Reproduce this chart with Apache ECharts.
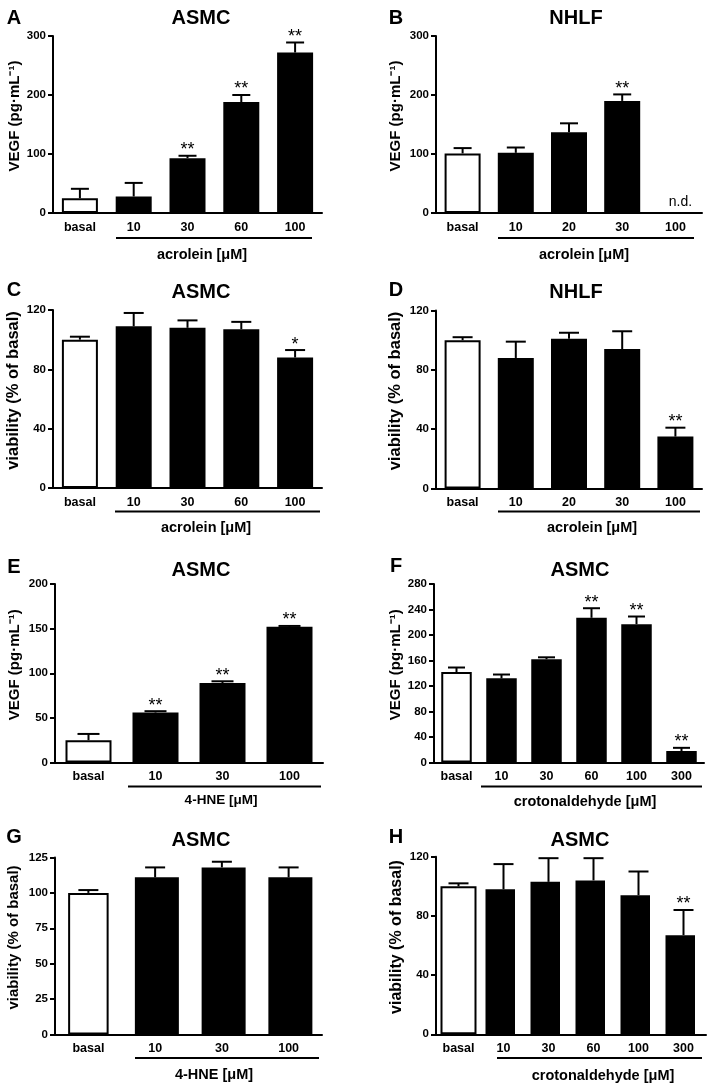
<!DOCTYPE html>
<html><head><meta charset="utf-8">
<script src="https://cdn.jsdelivr.net/npm/echarts@6/dist/echarts.min.js"></script>
<style>html,body{margin:0;padding:0;background:#fff}#c{width:709px;height:1084px}</style>
</head><body><div id="c"></div>
<script>
// ---------- DATA ----------
const catsA = ['basal','10','30','60','100'];
const valsA = [25, 28, 93, 188, 272];
const errsA = [16, 23, 4, 12, 17];
const sigA  = ['', '', '**', '**', '**'];

const catsB = ['basal','10','20','30','100'];
const valsB = [101, 102, 137, 190, null];
const errsB = [9, 9, 15, 11, null];
const sigB  = ['', '', '', '**', 'n.d.'];

const catsC = ['basal','10','30','60','100'];
const valsC = [100, 109, 108, 107, 88];
const errsC = [2, 9, 5, 5, 5];
const sigC  = ['', '', '', '', '*'];

const catsD = ['basal','10','20','30','100'];
const valsD = [100, 88, 101, 94, 35];
const errsD = [2, 11, 4, 12, 6];
const sigD  = ['', '', '', '', '**'];

const catsE = ['basal','10','30','100'];
const valsE = [25, 56, 89, 152];
const errsE = [7, 1.5, 2, 1];
const sigE  = ['', '**', '**', '**'];

const catsF = ['basal','10','30','60','100','300'];
const valsF = [142, 132, 162, 227, 217, 18];
const errsF = [7, 6, 3, 15, 12, 5];
const sigF  = ['', '', '', '**', '**', '**'];

const catsG = ['basal','10','30','100'];
const valsG = [100, 111, 118, 111];
const errsG = [2, 7, 4, 7];
const sigG  = ['', '', '', ''];

const catsH = ['basal','10','30','60','100','300'];
const valsH = [100, 98, 103, 104, 94, 67];
const errsH = [2, 17, 16, 15, 16, 17];
const sigH  = ['', '', '', '', '', '**'];

const vegfName = 'VEGF (pg·mL⁻¹)';
const viaName = 'viability (% of basal)';

// ---------- LAYOUT ----------
const FF = '"Liberation Sans", Arial, Helvetica, sans-serif';
const panels = [
  {letter:'A', title:'ASMC', cats:catsA, vals:valsA, errs:errsA, sig:sigA, yMax:300, yInt:100, yName:vegfName, group:'acrolein [μM]',
   grid:{left:53, top:36, width:269, height:177}, barW:36, basalW:36, cap:9, letterXY:[14,18], titleXY:[201,18], line:[116,312,238], groupXY:[202,255], nameGap:31, nameSize:15, groupSize:14.5},
  {letter:'B', title:'NHLF', cats:catsB, vals:valsB, errs:errsB, sig:sigB, yMax:300, yInt:100, yName:vegfName, group:'acrolein [μM]',
   grid:{left:436, top:36, width:266, height:177}, barW:36, basalW:36, cap:9, letterXY:[396,18], titleXY:[576,18], line:[498,694,238], groupXY:[584,255], nameGap:33, nameSize:15, groupSize:14.5},
  {letter:'C', title:'ASMC', cats:catsC, vals:valsC, errs:errsC, sig:sigC, yMax:120, yInt:40, yName:viaName, group:'acrolein [μM]',
   grid:{left:53, top:310, width:269, height:178}, barW:36, basalW:36, cap:10, letterXY:[14,290], titleXY:[201,292], line:[115,320,511.5], groupXY:[206,528], nameGap:31, nameSize:16.5, groupSize:14.5},
  {letter:'D', title:'NHLF', cats:catsD, vals:valsD, errs:errsD, sig:sigD, yMax:120, yInt:40, yName:viaName, group:'acrolein [μM]',
   grid:{left:436, top:310.5, width:266, height:178}, barW:36, basalW:36, cap:10, letterXY:[396,290], titleXY:[576,292], line:[498,700,511.5], groupXY:[592,528], nameGap:32, nameSize:16.5, groupSize:14.5},
  {letter:'E', title:'ASMC', cats:catsE, vals:valsE, errs:errsE, sig:sigE, yMax:200, yInt:50, yName:vegfName, group:'4-HNE [μM]',
   grid:{left:55, top:584, width:268, height:178.5}, barW:46, basalW:46, cap:11, letterXY:[14,567], titleXY:[201,570], line:[128,321,786.5], groupXY:[221,800], nameGap:33, nameSize:15, groupSize:13.5},
  {letter:'F', title:'ASMC', cats:catsF, vals:valsF, errs:errsF, sig:sigF, yMax:280, yInt:40, yName:vegfName, group:'crotonaldehyde [μM]',
   grid:{left:434, top:584, width:270, height:178.5}, barW:30.5, basalW:30.5, cap:8.5, letterXY:[396,566], titleXY:[580,570], line:[481,702,786.5], groupXY:[585,801.5], nameGap:30.5, nameSize:15, groupSize:14.5},
  {letter:'G', title:'ASMC', cats:catsG, vals:valsG, errs:errsG, sig:sigG, yMax:125, yInt:25, yName:viaName, group:'4-HNE [μM]',
   grid:{left:55, top:857.5, width:267, height:177}, barW:44, basalW:40.5, cap:10, letterXY:[14,837], titleXY:[201,840], line:[135,319,1058], groupXY:[214,1075], nameGap:34, nameSize:15, groupSize:14.5},
  {letter:'H', title:'ASMC', cats:catsH, vals:valsH, errs:errsH, sig:sigH, yMax:120, yInt:40, yName:viaName, group:'crotonaldehyde [μM]',
   grid:{left:436, top:856.7, width:270, height:177.6}, barW:29.5, basalW:36, cap:10, letterXY:[396,837], titleXY:[580,840], line:[497,702,1058], groupXY:[603,1075.5], nameGap:31.5, nameSize:16, groupSize:14.5}
];

const chart = echarts.init(document.getElementById('c'), null, {renderer:'canvas'});

function txt(x, y, text, size, weight) {
  return {type:'text', x:x, y:y, z:100, style:{text:text, fill:'#000', font:(weight||'bold')+' '+size+'px '+FF,
    align:'center', verticalAlign:'middle', textAlign:'center', textVerticalAlign:'middle'}};
}

const grids = [], xAxes = [], yAxes = [], series = [], graphics = [];
panels.forEach((p, i) => {
  grids.push(Object.assign({containLabel:false}, p.grid));
  xAxes.push({type:'category', gridIndex:i, data:p.cats,
    axisLine:{show:true, lineStyle:{color:'#000', width:2}}, axisTick:{show:false},
    axisLabel:{color:'#000', fontWeight:'bold', fontSize:12.5, fontFamily:FF, margin:8}});
  yAxes.push({type:'value', gridIndex:i, min:0, max:p.yMax, interval:p.yInt,
    splitLine:{show:false},
    axisLine:{show:true, lineStyle:{color:'#000', width:2}},
    axisTick:{show:true, length:5, lineStyle:{color:'#000', width:2}},
    axisLabel:{color:'#000', fontWeight:'bold', fontSize:11.5, fontFamily:FF, margin:7},
    name:p.yName, nameLocation:'middle', nameGap:p.nameGap,
    nameTextStyle:{color:'#000', fontWeight:'bold', fontSize:p.nameSize, fontFamily:FF, padding:[0,0,0,17]}});
  // treated bars (black)
  series.push({type:'bar', xAxisIndex:i, yAxisIndex:i, barWidth:p.barW, barGap:'-100%',
    data:p.vals.map((v,j) => (j === 0 || v == null) ? '-' : v),
    itemStyle:{color:'#000'}, silent:true, animation:false});
  // basal bar (white, outlined)
  series.push({type:'bar', xAxisIndex:i, yAxisIndex:i, barWidth:p.basalW, barGap:'-100%',
    data:p.vals.map((v,j) => j === 0 ? v : '-'),
    itemStyle:{color:'#fff', borderColor:'#000', borderWidth:2}, silent:true, animation:false});
  // error bars + significance marks
  series.push({type:'custom', xAxisIndex:i, yAxisIndex:i, z:10, silent:true, animation:false,
    data:p.vals.map((v,j) => [j, v == null ? 0 : v, p.errs[j] == null ? 0 : p.errs[j]]),
    renderItem:function(params, api){
      const j = params.dataIndex;
      const v = p.vals[j], e = p.errs[j], s = p.sig[j];
      const ch = [];
      if (v == null) {
        const pt = api.coord([j, 0]);
        ch.push({type:'text', style:{text:s, x:pt[0]+5, y:pt[1]-11, fill:'#000', font:'14px '+FF, align:'center', verticalAlign:'middle'}});
        return {type:'group', children:ch};
      }
      const b = api.coord([j, v]);
      const t = api.coord([j, v + e]);
      ch.push({type:'line', shape:{x1:b[0], y1:b[1], x2:t[0], y2:t[1]}, style:{stroke:'#000', lineWidth:2}});
      ch.push({type:'line', shape:{x1:t[0]-p.cap, y1:t[1], x2:t[0]+p.cap, y2:t[1]}, style:{stroke:'#000', lineWidth:2}});
      if (s) ch.push({type:'text', style:{text:s, x:t[0], y:t[1]-5.5, fill:'#000', font:'18px '+FF, align:'center', verticalAlign:'middle'}});
      return {type:'group', children:ch};
    }});
  graphics.push(txt(p.letterXY[0], p.letterXY[1], p.letter, 20));
  graphics.push(txt(p.titleXY[0], p.titleXY[1], p.title, 20));
  graphics.push({type:'line', z:100, shape:{x1:p.line[0], y1:p.line[2], x2:p.line[1], y2:p.line[2]}, style:{stroke:'#000', lineWidth:2}});
  graphics.push(txt(p.groupXY[0], p.groupXY[1], p.group, p.groupSize));
});

chart.setOption({
  animation:false,
  backgroundColor:'#fff',
  grid:grids, xAxis:xAxes, yAxis:yAxes, series:series, graphic:graphics
});
</script></body></html>
